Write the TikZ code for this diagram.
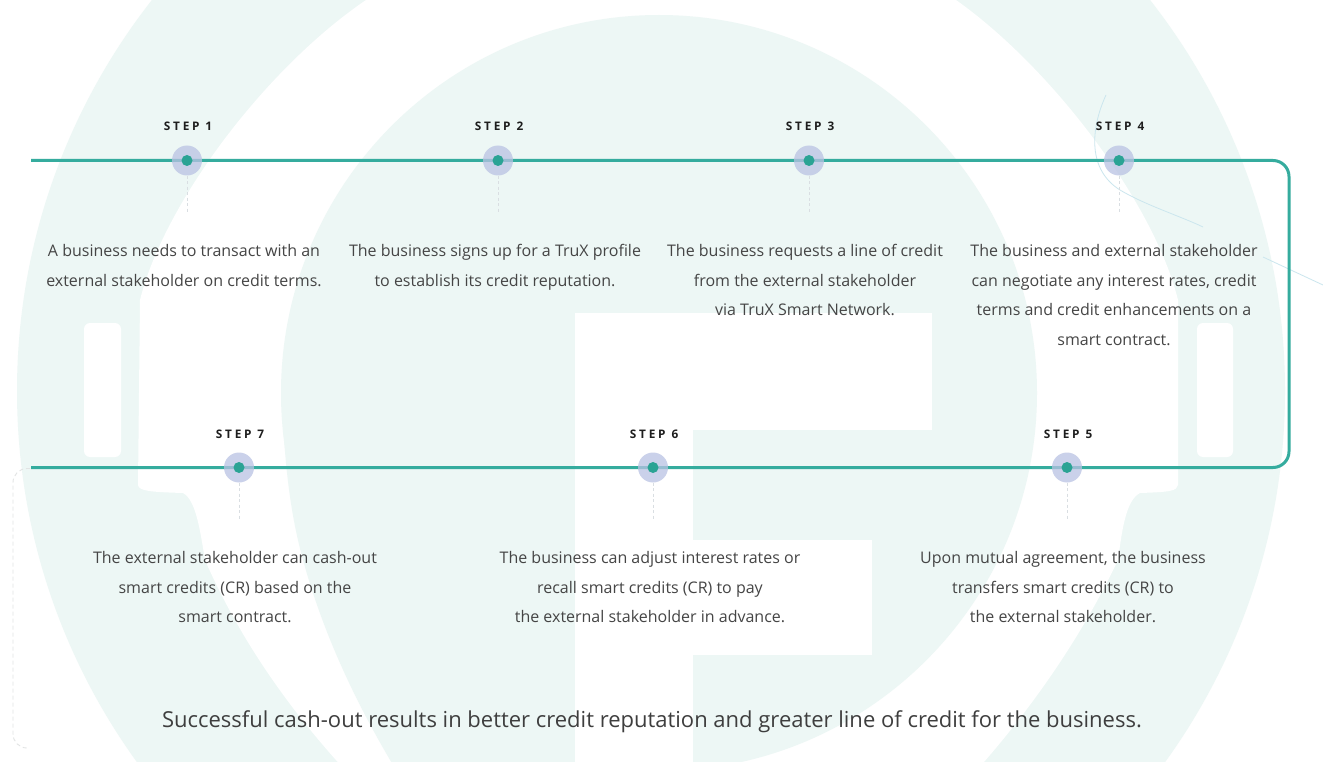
\documentclass[tikz,border=0pt]{standalone}
\usepackage{fontspec}
\setmainfont{Open Sans}
\definecolor{bgteal}{HTML}{EDF7F5}
\definecolor{lineteal}{HTML}{35AC9E}
\definecolor{dotteal}{HTML}{2AA394}
\definecolor{halocol}{HTML}{B9C2E3}
\definecolor{txt}{HTML}{454545}
\definecolor{lbl}{HTML}{1E1E1E}
\definecolor{dashc}{HTML}{D9DEE2}
\definecolor{deco}{HTML}{CBE6EE}
\definecolor{brack}{HTML}{E2E4E4}
\tikzset{
  steplabel/.style={font=\fontsize{11.8}{13}\selectfont\bfseries\addfontfeature{LetterSpace=24}, text=lbl, anchor=base, inner sep=0pt},
  desc/.style={font=\fontsize{16}{29.4}\selectfont, text=txt, align=center, anchor=north, inner sep=0pt},
  stephalo/.style={circle, fill=halocol, fill opacity=0.75, minimum size=30pt, inner sep=0pt},
  stepdot/.style={circle, fill=dotteal, minimum size=11pt, inner sep=0pt},
  stepdrop/.style={draw=dashc, line width=0.8pt, dash pattern=on 3pt off 2.5pt},
  timeline/.style={draw=lineteal, line width=3pt, rounded corners=16pt},
  bracket/.style={draw=brack, line width=0.9pt, dash pattern=on 4pt off 3pt, rounded corners=14pt},
  decoline/.style={draw=deco, line width=0.8pt},
}
\begin{document}
\begin{tikzpicture}[x=1pt,y=-1pt]
\useasboundingbox (0,0) rectangle (1323,762);
% ---------- background logo ----------
\begin{scope}
\clip (0,0) rectangle (1323,762);
\fill[white] (0,0) rectangle (1323,762);
\fill[bgteal] (651,391) circle (634pt);
\fill[white] (366,-10) -- (366,0) .. controls (266,68) and (164,203) .. (140,300)
  -- (138,485) .. controls (139,491) and (150,492) .. (183,493)
  .. controls (196,500) and (200,530) .. (205,560)
  .. controls (240,640) and (290,710) .. (345,770)
  -- (977,770) .. controls (1030,710) and (1080,640) .. (1118,560)
  .. controls (1122,530) and (1126,500) .. (1140,493)
  .. controls (1170,492) and (1177,491) .. (1178,485)
  -- (1178,300) .. controls (1154,203) and (1052,68) .. (956,0)
  -- (956,-10) -- cycle;
\fill[bgteal] (659,393) circle (378pt);
\fill[bgteal] (282,393) .. controls (284,470) and (292,520) .. (303,560)
  .. controls (325,640) and (360,710) .. (396,770) -- (600,770) -- (600,393) -- cycle;
\fill[white] (575,313) rectangle (932,430);
\fill[white] (575,313) rectangle (693,770);
\fill[white] (693,540) rectangle (872,655);
\fill[white, rounded corners=6pt] (84,323) rectangle (121,457);
\fill[white, rounded corners=6pt] (1197,323) rectangle (1233,457);
\draw[decoline] (1106,95) .. controls (1090,130) and (1088,170) .. (1120,190)
  .. controls (1145,205) and (1180,216) .. (1203,227);
\draw[decoline] (1263,257) -- (1323,285);
\end{scope}
% ---------- timeline ----------
\coordinate (lstart) at (31,160.5);
\coordinate (ca) at (1289,160.5);
\coordinate (cb) at (1289,467.5);
\coordinate (lend) at (31,467.5);
\draw[timeline] (lstart) -- (ca) -- (cb) -- (lend);
\coordinate (bra) at (30,468.5);
\coordinate (brb) at (28,748);
\draw[bracket] (bra) -- (13,468.5) -- (13,748) -- (brb);
% ---------- markers ----------
\foreach \n/\x/\y in {1/187/160.5, 2/498/160.5, 3/809/160.5, 4/1119/160.5, 7/239/467.5, 6/653/467.5, 5/1067/467.5}{
  \node[stephalo] (h\n) at (\x,\y) {};
  \node[stepdot] (d\n) at (\x,\y) {};
  \coordinate (e\n) at (\x,\y+52);
  \draw[stepdrop] (h\n.south) -- (e\n);
}
% ---------- labels ----------
\node[steplabel] (l1) at (188,131) {STEP 1};
\node[steplabel] (l2) at (499,131) {STEP 2};
\node[steplabel] (l3) at (810,131) {STEP 3};
\node[steplabel] (l4) at (1120,131) {STEP 4};
\node[steplabel] (l7) at (240,438) {STEP 7};
\node[steplabel] (l6) at (654,438) {STEP 6};
\node[steplabel] (l5) at (1068,438) {STEP 5};
% ---------- descriptions ----------
\node[desc] (t1) at (184,244.5) {A business needs to transact with an\\external stakeholder on credit terms.};
\node[desc] (t2) at (495,244.5) {The business signs up for a TruX profile\\to establish its credit reputation.};
\node[desc] (t3) at (805,244.5) {The business requests a line of credit\\from the external stakeholder\\via TruX Smart Network.};
\node[desc] (t4) at (1114,244.5) {The business and external stakeholder\\can negotiate any interest rates, credit\\terms and credit enhancements on a\\smart contract.};
\node[desc] (t7) at (235,551.5) {The external stakeholder can cash-out\\smart credits (CR) based on the\\smart contract.};
\node[desc] (t6) at (650,551.5) {The business can adjust interest rates or\\recall smart credits (CR) to pay\\the external stakeholder in advance.};
\node[desc] (t5) at (1063,551.5) {Upon mutual agreement, the business\\transfers smart credits (CR) to\\the external stakeholder.};
\node[font=\fontsize{22}{26}\selectfont, text=txt!90!black, anchor=base, inner sep=0pt] (fin) at (652,727) {Successful cash-out results in better credit reputation and greater line of credit for the business.};
\end{tikzpicture}
\end{document}
